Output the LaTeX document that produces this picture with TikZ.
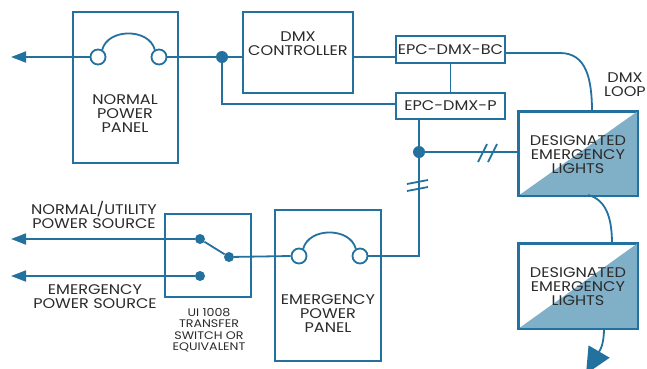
\documentclass[tikz,border=0pt]{standalone}
\usepackage{fontspec}
\setmainfont{Poppins}[FakeStretch=1.15]
\usetikzlibrary{arrows.meta,calc}
\definecolor{lineblue}{HTML}{23719F}
\definecolor{fillblue}{HTML}{80AFC8}
\definecolor{textgray}{HTML}{2B2B2B}
\tikzset{
  box/.style={draw=lineblue, line width=2pt, inner sep=0pt, fill=white},
  wire/.style={draw=lineblue, line width=1.8pt},
  lbl/.style={text=textgray, font=\fontsize{14}{14}\selectfont, align=center, inner sep=0pt},
  smalllbl/.style={text=textgray, font=\fontsize{11}{11.5}\selectfont, align=center, inner sep=0pt},
  brk/.style={circle, draw=lineblue, line width=1.8pt, fill=white, minimum size=15pt, inner sep=0pt},
  dot/.style={circle, fill=lineblue, minimum size=12pt, inner sep=0pt},
  sdot/.style={circle, fill=lineblue, minimum size=10pt, inner sep=0pt},
  arr/.style={-{Triangle[length=15pt,width=11pt]}},
}
\begin{document}
\begin{tikzpicture}[x=1pt,y=-1pt]
\useasboundingbox (0,0) rectangle (647,368);
% boxes
\node[box, minimum width=105pt, minimum height=151pt] (npp) at (125.5,87.5) {};
\node[box, minimum width=110pt, minimum height=81pt] (dmx) at (298,52.5) {};
\node[box, minimum width=109pt, minimum height=27pt] (bc) at (450.5,49.5) {};
\node[box, minimum width=109pt, minimum height=26pt] (epcp) at (450.5,106) {};
\node[box, minimum width=86pt, minimum height=83pt] (ts) at (208,255.5) {};
\node[box, minimum width=106pt, minimum height=151pt] (epp) at (328,285.5) {};
\node[box, minimum width=118pt, minimum height=83pt] (del1) at (578,153.5) {};
\node[box, minimum width=118pt, minimum height=84pt] (del2) at (578,286) {};
% diagonal fills
\fill[fillblue] (del1.south west) -- (del1.south east) -- (del1.north east) -- cycle;
\draw[lineblue, line width=2pt] (del1.south west) rectangle (del1.north east);
\fill[fillblue] (del2.south west) -- (del2.south east) -- (del2.north east) -- cycle;
\draw[lineblue, line width=2pt] (del2.south west) rectangle (del2.north east);
% breakers
\node[brk] (b1) at (98,57) {};
\node[brk] (b2) at (159,57) {};
\node[brk] (b3) at (299,256) {};
\node[brk] (b4) at (360,256) {};
\draw[wire] (b1.60) .. controls (108,28) and (149,28) .. (b2.120);
\draw[wire] (b3.60) .. controls (309,227) and (350,227) .. (b4.120);
% junctions
\node[dot] (j1) at (222,57) {};
\node[dot] (j2) at (419,152) {};
\node[sdot] (d1) at (200,239) {};
\node[sdot] (d2) at (229,257) {};
\node[sdot] (d3) at (200,276) {};
% arrow tips
\coordinate (t1) at (11,57);
\coordinate (t2) at (11,239);
\coordinate (t3) at (11,276);
\coordinate (t4) at (586,374);
% wires
\draw[wire, arr] (b1.west) -- (t1);
\draw[wire] (b2.east) -- (j1);
\draw[wire] (j1) -- (dmx.west |- j1);
\draw[wire] (j1) |- ($(epcp.west)+(0,-2)$);
\draw[wire] (dmx.east |- j1) -- (bc.west |- j1);
\draw[wire] (bc.south) -- (epcp.north);
\coordinate (pdown) at (419,119);
\draw[wire] (pdown) -- (j2);
\draw[wire] (j2) |- (b4.east);
\draw[wire] (j2) -- (del1.west |- j2);
\draw[wire] ($(bc.east)+(0,3.5)$) -- (560,53) .. controls (586,53) and (592,78) .. (592,112);
\draw[wire] (588,195) .. controls (608,200) and (612,222) .. (612,244);
\draw[wire, -{Triangle[length=26pt,width=24pt]}] (604,328) .. controls (604,345) and (600,350) .. (t4);
\draw[wire] (d1) -- (d2);
\draw[wire, arr] (d1) -- (t2);
\draw[wire, arr] (d3) -- (t3);
\draw[wire] (d2) -- (b3.west);
% hash marks
\draw[lineblue, line width=1.8pt] (478,162) -- (487,144) (488,162) -- (497,144);
\draw[lineblue, line width=1.8pt] (407,184) -- (428,180) (407,191) -- (428,187);
% labels
\node[lbl] (l1) at (125,114) {NORMAL\\POWER\\PANEL};
\node[lbl] (l2) at (298,44) {DMX\\CONTROLLER};
\node[lbl] (l3) at (bc) {EPC-DMX-BC};
\node[lbl] (l4) at (epcp) {EPC-DMX-P};
\node[lbl] (l5) at (625,85) {DMX\\LOOP};
\node[lbl] (l6) at (578,155) {DESIGNATED\\EMERGENCY\\LIGHTS};
\node[lbl] (l7) at (578,287) {DESIGNATED\\EMERGENCY\\LIGHTS};
\node[lbl] (l8) at (94,215) {NORMAL/UTILITY\\POWER SOURCE};
\node[lbl] (l9) at (95,297) {EMERGENCY\\POWER SOURCE};
\node[smalllbl] (l10) at (209,330) {UI 1008\\TRANSFER\\SWITCH OR\\EQUIVALENT};
\node[lbl] (l11) at (328,314) {EMERGENCY\\POWER\\PANEL};
\end{tikzpicture}
\end{document}
